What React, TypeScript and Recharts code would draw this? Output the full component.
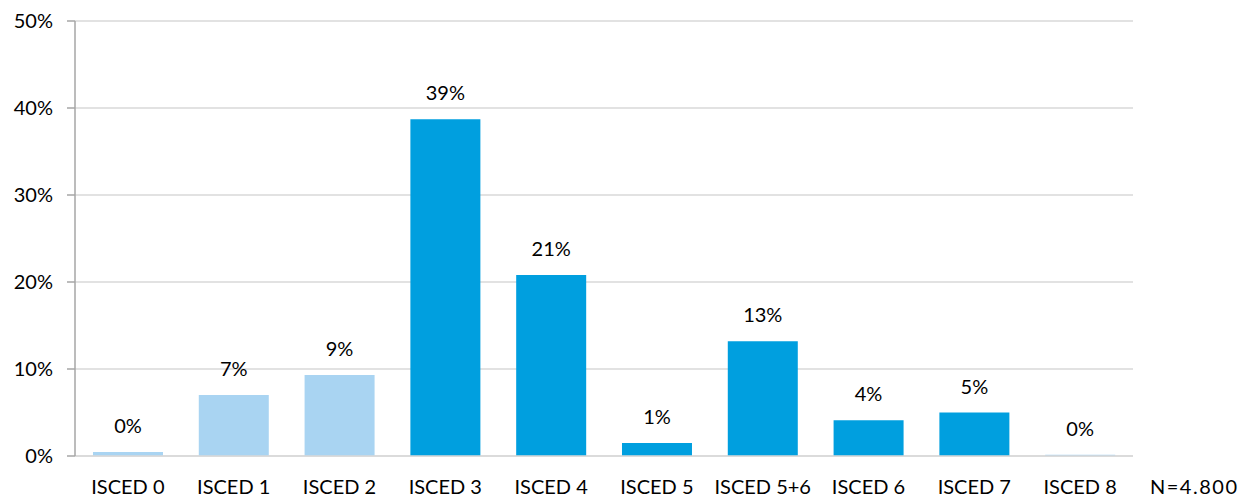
import { BarChart, Bar, XAxis, YAxis, CartesianGrid, Cell, LabelList } from "recharts";

const categories = ["ISCED 0", "ISCED 1", "ISCED 2", "ISCED 3", "ISCED 4", "ISCED 5", "ISCED 5+6", "ISCED 6", "ISCED 7", "ISCED 8"];
const shares = [0.45, 7.0, 9.3, 38.7, 20.8, 1.5, 13.2, 4.1, 5.0, 0.15];
const labels = ["0%", "7%", "9%", "39%", "21%", "1%", "13%", "4%", "5%", "0%"];
const lightGroup = [true, true, true, false, false, false, false, false, false, true];
const yTicks = [0, 10, 20, 30, 40, 50];
const sampleNote = "N=4.800";

const FONT = "Lato, 'Open Sans', sans-serif";
const LIGHT = "#A9D4F2";
const DARK = "#009FDF";

const data = categories.map((name, i) => ({
  name,
  value: shares[i],
  label: labels[i],
  light: lightGroup[i],
}));

const renderLabel = (props: any) => {
  const { x, y, width, index } = props;
  return (
    <text
      x={x + width / 2}
      y={y - 24}
      textAnchor="middle"
      dominantBaseline="middle"
      fontFamily={FONT}
      fontSize={20}
      fill="#000"
    >
      {labels[index]}
    </text>
  );
};

export default function App() {
  return (
    <div style={{ position: "fixed", left: 0, top: 0, width: 1243, height: 498, fontFamily: FONT, background: "#fff" }}>
      <BarChart
        width={1243}
        height={498}
        data={data}
        margin={{ top: 21, right: 110, bottom: 0, left: 0 }}
        barCategoryGap="17%"
      >
        <CartesianGrid vertical={false} stroke="#d9d9d9" strokeWidth={1.5} />
        <XAxis
          dataKey="name"
          interval={0}
          axisLine={{ stroke: "#d9d9d9", strokeWidth: 1.5 }}
          tickLine={false}
          tick={{ fill: "#000", fontSize: 20, fontFamily: FONT }}
          tickMargin={18}
          height={42}
        />
        <YAxis
          domain={[0, 50]}
          ticks={yTicks}
          tickFormatter={(v) => `${v}%`}
          axisLine={{ stroke: "#a6a6a6", strokeWidth: 1.5 }}
          tickLine={{ stroke: "#a6a6a6", strokeWidth: 1.5 }}
          tickSize={8}
          tickMargin={14}
          width={75}
          tick={{ fill: "#000", fontSize: 20, fontFamily: FONT }}
        />
        <Bar dataKey="value" isAnimationActive={false}>
          {data.map((d) => (
            <Cell key={d.name} fill={d.light ? LIGHT : DARK} />
          ))}
          <LabelList dataKey="label" content={renderLabel} />
        </Bar>
      </BarChart>
      <div
        style={{
          position: "absolute",
          left: 1150,
          top: 476,
          fontSize: 20,
          lineHeight: 1,
          letterSpacing: 1.5,
          color: "#000",
          whiteSpace: "nowrap",
        }}
      >
        {sampleNote}
      </div>
    </div>
  );
}
